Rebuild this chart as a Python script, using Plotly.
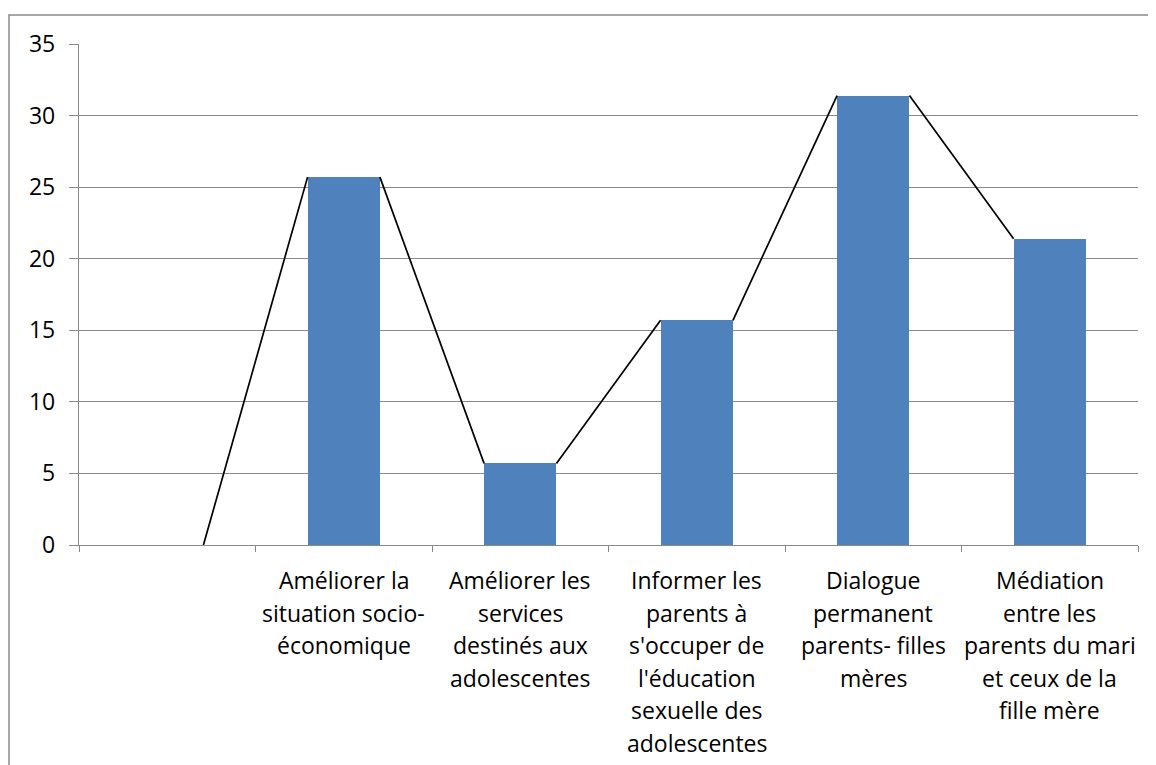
import plotly.graph_objects as go

categories = [
    "",
    "Améliorer la<br>situation socio-<br>économique",
    "Améliorer les<br>services<br>destinés aux<br>adolescentes",
    "Informer les<br>parents à<br>s'occuper de<br>l'éducation<br>sexuelle des<br>adolescentes",
    "Dialogue<br>permanent<br>parents- filles<br>mères",
    "Médiation<br>entre les<br>parents du mari<br>et ceux de la<br>fille mère",
]
values = [0, 25.7, 5.7, 15.7, 31.4, 21.4]
y_ticks = [0, 5, 10, 15, 20, 25, 30, 35]

BAR_W = 0.41
GRID = "#898989"
FONT = "Open Sans"
FS = 23
LINE_H = 32.6

ML, MT, MR, MB = 71, 36, 26, 228
PW = 1156 - ML - MR
PH = 765 - MT - MB

n = len(categories)
xs = list(range(n))

# connector line between adjacent bar top corners
lx, ly = [], []
for i in range(n - 1):
    lx += [xs[i] + BAR_W / 2, xs[i + 1] - BAR_W / 2, None]
    ly += [values[i], values[i + 1], None]

fig = go.Figure()
fig.add_trace(go.Scatter(x=lx, y=ly, mode="lines",
                         line=dict(color="black", width=1.7),
                         hoverinfo="skip", showlegend=False))
fig.add_trace(go.Bar(x=xs, y=values, width=BAR_W, marker=dict(color="#4F81BD", line=dict(width=0)),
                     showlegend=False))
# invisible trace for boundary-tick axis
fig.add_trace(go.Scatter(x=[-0.5, n - 0.5], y=[0, 0], mode="markers", marker=dict(opacity=0),
                         xaxis="x2", hoverinfo="skip", showlegend=False))

annotations = []
for i, lab in enumerate(categories):
    if not lab:
        continue
    for k, line in enumerate(lab.split("<br>")):
        annotations.append(dict(
            x=xs[i], y=0, xref="x", yref="paper", text=line, showarrow=False,
            xanchor="center", yanchor="middle", yshift=-(35 + k * LINE_H),
            font=dict(family=FONT, size=FS, color="black")))

fig.update_layout(
    width=1156, height=765,
    margin=dict(l=ML, r=MR, t=MT, b=MB),
    paper_bgcolor="white", plot_bgcolor="white",
    bargap=0,
    font=dict(family=FONT, size=FS, color="black"),
    xaxis=dict(range=[-0.5, n - 0.5], showticklabels=False, showgrid=False,
               zeroline=False, showline=True, linecolor=GRID, linewidth=1.3,
               ticks="", fixedrange=True),
    xaxis2=dict(range=[-0.5, n - 0.5], overlaying="x", side="bottom", anchor="y",
                tickmode="array", tickvals=[i - 0.5 for i in range(n + 1)],
                showticklabels=False, ticks="outside", ticklen=6, tickwidth=1.3,
                tickcolor=GRID, showgrid=False, zeroline=False, showline=False),
    yaxis=dict(range=[0, 35], tickmode="array", tickvals=y_ticks,
               ticks="outside", ticklen=9, tickwidth=1.3, tickcolor=GRID,
               showgrid=True, gridcolor=GRID, gridwidth=1.3,
               zeroline=False, showline=True, linecolor=GRID, linewidth=1.3,
               ticklabelstandoff=9,
               tickfont=dict(family=FONT, size=FS, color="black")),
    annotations=annotations,
    shapes=[dict(type="rect", xref="paper", yref="paper",
                 x0=(1 - ML) / PW, x1=(1170 - ML) / PW,
                 y0=-(780 - (MT + PH)) / PH, y1=1 + (MT - 7) / PH,
                 line=dict(color=GRID, width=1.5), layer="below")],
)

fig.write_html("out.html")
